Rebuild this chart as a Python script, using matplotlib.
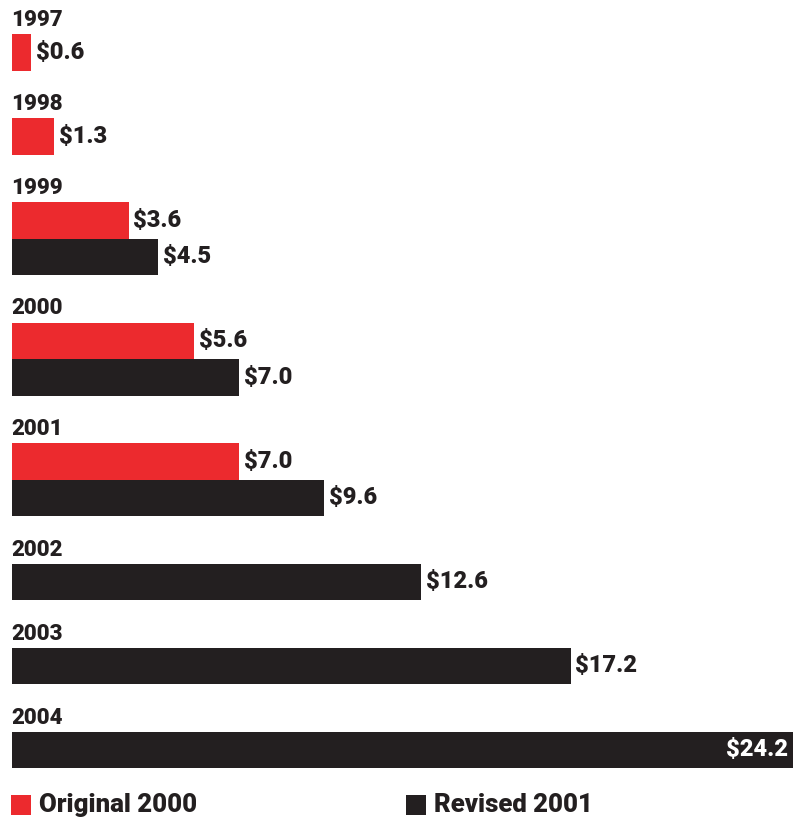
import matplotlib.pyplot as plt
from matplotlib.patches import Rectangle
import matplotlib.transforms as mtransforms

years = ["1997", "1998", "1999", "2000", "2001", "2002", "2003", "2004"]
original_2000 = [0.6, 1.3, 3.6, 5.6, 7.0, None, None, None]
revised_2001 = [None, None, 4.5, 7.0, 9.6, 12.6, 17.2, 24.2]
series_names = ["Original 2000", "Revised 2001"]

RED = "#ec2a2e"
BLACK = "#231f20"
FONT = "Roboto"
WEIGHT = "black"

W, H = 793, 818
fig = plt.figure(figsize=(W / 100, H / 100), dpi=100)
ax = fig.add_axes([0, 0, 1, 1])

# horizontal scale: 32.5 px per dollar, bars start 11.5 px from the left
px_per_unit = 32.5
x0_px = 11.5
ax.set_xlim(-x0_px / px_per_unit, (W - x0_px) / px_per_unit)
ax.set_ylim(H, 0)
ax.axis("off")

bar_h = 36.5
group_gap = 47.5
top = 34.0

for i, year in enumerate(years):
    ax.text(0, top - 8, year, fontsize=16, fontweight=WEIGHT, family=FONT,
            color=BLACK, ha="left", va="baseline")
    for val, col in ((original_2000[i], RED), (revised_2001[i], BLACK)):
        if val is None:
            continue
        yc = top + bar_h / 2
        ax.barh(yc, val, height=bar_h, left=0, color=col, linewidth=0)
        label = f"${val:.1f}"
        if val > ax.get_xlim()[1] - 1.5:
            # label sits inside the bar at the right edge
            off = mtransforms.offset_copy(ax.transData, fig=fig, x=-5, y=0, units="dots")
            ax.text(ax.get_xlim()[1], yc, label, transform=off, fontsize=17,
                    fontweight=WEIGHT, family=FONT, color="white",
                    ha="right", va="center")
        else:
            off = mtransforms.offset_copy(ax.transData, fig=fig, x=5, y=0, units="dots")
            ax.text(val, yc, label, transform=off, fontsize=17,
                    fontweight=WEIGHT, family=FONT, color=BLACK,
                    ha="left", va="center")
        top += bar_h
    top += group_gap

# legend along the bottom
for name, col, lx in ((series_names[0], RED, 11), (series_names[1], BLACK, 406)):
    fig.patches.append(Rectangle((lx / W, 1 - 815 / H), 20 / W, 20 / H,
                                 transform=fig.transFigure, color=col, linewidth=0))
    fig.text((lx + 28) / W, 1 - 805 / H, name, fontsize=18.5, fontweight=WEIGHT,
             family=FONT, color=BLACK, ha="left", va="center")

fig.savefig("out.png", dpi=100)
